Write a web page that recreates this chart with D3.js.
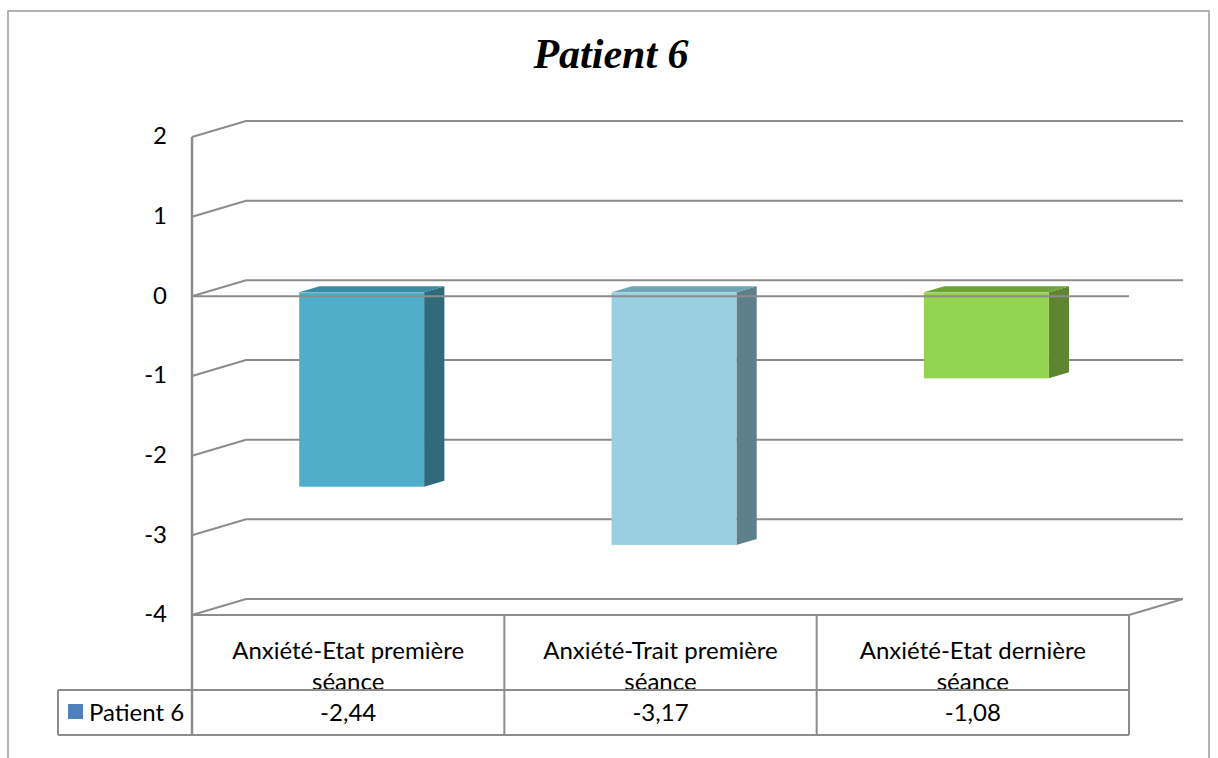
<!DOCTYPE html>
<html>
<head>
<meta charset="utf-8">
<script src="https://cdn.jsdelivr.net/npm/d3@7"></script>
<style>
  html, body { margin: 0; padding: 0; background: #fff; }
  svg { display: block; }
</style>
</head>
<body>
<script>
// Chart data
const title = "Patient 6";
const seriesName = "Patient 6";
const categories = ["Anxiété-Etat première séance", "Anxiété-Trait première séance", "Anxiété-Etat dernière séance"];
const headerLines = [["Anxiété-Etat première", "séance"], ["Anxiété-Trait première", "séance"], ["Anxiété-Etat dernière", "séance"]];
const values = [-2.44, -3.17, -1.08];
const valueLabels = ["-2,44", "-3,17", "-1,08"];
const yTicks = [2, 1, 0, -1, -2, -3, -4];

const faceColors = ["#4FAFCB", "#98CFE1", "#93D452"];
const topColors  = ["#3A8BA1", "#72A5B4", "#6EA33A"];
const sideColors = ["#306B7B", "#5E808B", "#5E8630"];

const W = 1218, H = 758;
const svg = d3.select("body").append("svg").attr("width", W).attr("height", H);

// Front plane of the 3D box; depth is drawn as an oblique offset
const left = 192, right = 1129;
const DX = 54, DY = 16;
const y = d3.scaleLinear().domain([-4, 2]).range([615, 137]);
const x = d3.scaleBand().domain(categories).range([left, right]).paddingInner(0).paddingOuter(0);
const proj = (px, v, d) => [px + DX * d, y(v) - DY * d];

const gridColor = "#8C8C8C";
const font = "Lato, 'Open Sans', sans-serif";
const fs = 24;

// Outer chart frame
svg.append("rect").attr("x", 8).attr("y", 11).attr("width", W - 9 - 8).attr("height", 800)
  .attr("fill", "none").attr("stroke", "#9A9A9A").attr("stroke-width", 1.5);

// Title
svg.append("text").attr("x", 611).attr("y", 68).attr("text-anchor", "middle")
  .attr("font-family", "'Liberation Serif', 'Times New Roman', serif")
  .attr("font-weight", "bold").attr("font-style", "italic").attr("font-size", 42)
  .text(title);

// Gridlines: side-wall diagonal + back wall horizontal
const grid = svg.append("g").attr("fill", "none").attr("stroke", gridColor).attr("stroke-width", 2);
yTicks.forEach(t => {
  const a = proj(left, t, 0), b = proj(left, t, 1), c = proj(right, t, 1);
  grid.append("path").attr("d", `M${a[0]},${a[1]}L${b[0]},${b[1]}L${c[0]},${c[1]}`);
});

// Floor front edge and right diagonal
{
  const a = proj(left, -4, 0), b = proj(right, -4, 0), c = proj(right, -4, 1);
  grid.append("path").attr("d", `M${a[0]},${a[1]}L${b[0]},${b[1]}L${c[0]},${c[1]}`);
}

// Bars (front face, top, side)
const bars = svg.append("g");
const d0 = 0.25, d1 = 0.625;
categories.forEach((c, i) => {
  const bw = x.bandwidth();
  const x0 = x(c) + 0.3 * bw, x1 = x0 + 0.4 * bw;
  const v = values[i];
  const f0 = proj(x0, 0, d0), f1 = proj(x1, v, d0);
  // side face
  const s = [proj(x1, 0, d0), proj(x1, v, d0), proj(x1, v, d1), proj(x1, 0, d1)];
  bars.append("polygon").attr("points", s.map(p => p.join(",")).join(" ")).attr("fill", sideColors[i]);
  // top face (at zero)
  const tp = [proj(x0, 0, d0), proj(x1, 0, d0), proj(x1, 0, d1), proj(x0, 0, d1)];
  bars.append("polygon").attr("points", tp.map(p => p.join(",")).join(" ")).attr("fill", topColors[i]);
  // front face
  bars.append("rect").attr("x", f0[0]).attr("y", f0[1])
    .attr("width", f1[0] - f0[0]).attr("height", f1[1] - f0[1])
    .attr("fill", faceColors[i]);
});

// Zero axis line on the front plane
svg.append("line").attr("x1", left).attr("x2", right).attr("y1", y(0)).attr("y2", y(0))
  .attr("stroke", gridColor).attr("stroke-width", 2);

// Value axis line and tick labels
svg.append("line").attr("x1", left).attr("x2", left).attr("y1", y(2)).attr("y2", 735)
  .attr("stroke", gridColor).attr("stroke-width", 2.5);
svg.append("g").selectAll("text").data(yTicks).join("text")
  .attr("x", 167).attr("y", d => y(d)).attr("dy", "0.3em").attr("text-anchor", "end")
  .attr("font-family", font).attr("font-size", fs).attr("fill", "#000")
  .text(d => d);

// Data table
const tbl = svg.append("g");
const rowTop = 615, rowMid = 690, rowBot = 735, legLeft = 58;

// Header text is clipped at the row divider, as the wrapped line overflows the cell
svg.append("clipPath").attr("id", "hdr-clip")
  .append("rect").attr("x", left).attr("y", rowTop).attr("width", right - left).attr("height", rowMid - rowTop);
const hdr = tbl.append("g").attr("clip-path", "url(#hdr-clip)");

const tline = (x1, y1, x2, y2) => tbl.append("line").attr("x1", x1).attr("y1", y1).attr("x2", x2).attr("y2", y2)
  .attr("stroke", gridColor).attr("stroke-width", 2);
tline(legLeft, rowMid, right, rowMid);
tline(legLeft, rowBot, right, rowBot);
tline(legLeft, rowMid, legLeft, rowBot);
categories.forEach(c => tline(x(c) + x.bandwidth(), rowTop, x(c) + x.bandwidth(), rowBot));

categories.forEach((c, i) => {
  const cx = x(c) + x.bandwidth() / 2;
  hdr.append("text").attr("x", cx).attr("y", 659).attr("text-anchor", "middle")
    .attr("font-family", font).attr("font-size", fs).text(headerLines[i][0]);
  hdr.append("text").attr("x", cx).attr("y", 690).attr("text-anchor", "middle")
    .attr("font-family", font).attr("font-size", fs).text(headerLines[i][1]);
  tbl.append("text").attr("x", cx).attr("y", 721).attr("text-anchor", "middle")
    .attr("font-family", font).attr("font-size", fs).text(valueLabels[i]);
});

// Legend key in the table
tbl.append("rect").attr("x", 68).attr("y", 704).attr("width", 15).attr("height", 15).attr("fill", "#4F81BD");
tbl.append("text").attr("x", 89).attr("y", 721)
  .attr("font-family", font).attr("font-size", fs).text(seriesName);
</script>
</body>
</html>
